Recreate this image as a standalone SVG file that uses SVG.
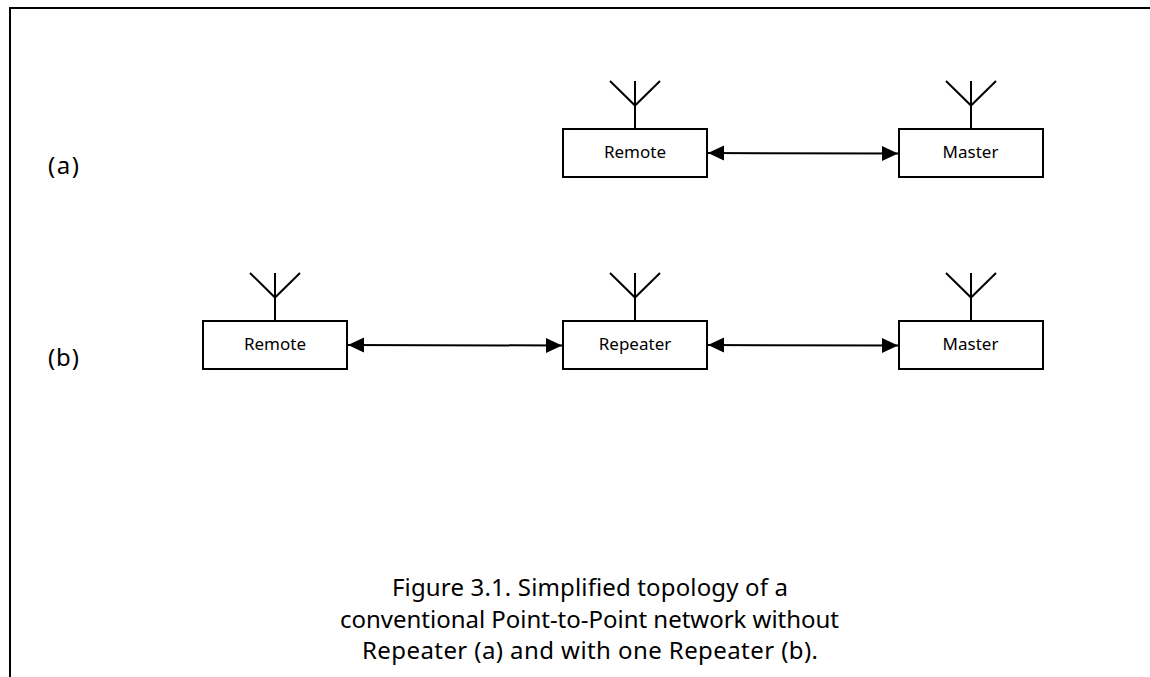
<svg xmlns="http://www.w3.org/2000/svg" width="1150" height="677" viewBox="0 0 1150 677">
<style>
.b{fill:#fff;stroke:#000;stroke-width:2}
.a{fill:none;stroke:#000;stroke-width:2}
.c{fill:none;stroke:#000;stroke-width:2;marker-start:url(#m);marker-end:url(#m)}
text{font-family:"Noto Sans","Open Sans","Liberation Sans",sans-serif;fill:#000;text-anchor:middle}
.n{font-size:17px}
.l{font-size:24px}
</style>
<defs>
<marker id="m" markerUnits="userSpaceOnUse" markerWidth="16" markerHeight="16" refX="16" refY="8" orient="auto-start-reverse"><path d="M0 0.500L16 8L0 15.500Z" fill="#000"/></marker>
<g id="ant"><path class="a" d="M25 0V48M0 0L25 24.500L50 0"/></g>
</defs>
<rect width="1150" height="677" fill="#fff"/>
<path id="frame" d="M1150 8H10V677" fill="none" stroke="#000" stroke-width="2"/>
<g id="connectors">
<path class="c" d="M708 153L898 153.500"/>
<path class="c" d="M348 345L562 345.500"/>
<path class="c" d="M708 345L898 345.500"/>
</g>
<g id="remote-a"><use href="#ant" x="610" y="81"/><rect class="b" x="563" y="129" width="144" height="48"/><text class="n" x="635" y="158">Remote</text></g>
<g id="master-a"><use href="#ant" x="946" y="81"/><rect class="b" x="899" y="129" width="144" height="48"/><text class="n" x="970.500" y="158">Master</text></g>
<g id="remote-b"><use href="#ant" x="250" y="273"/><rect class="b" x="203" y="321" width="144" height="48"/><text class="n" x="275" y="350">Remote</text></g>
<g id="repeater-b"><use href="#ant" x="610" y="273"/><rect class="b" x="563" y="321" width="144" height="48"/><text class="n" x="635" y="350">Repeater</text></g>
<g id="master-b"><use href="#ant" x="946" y="273"/><rect class="b" x="899" y="321" width="144" height="48"/><text class="n" x="970.500" y="350">Master</text></g>
<text class="l" x="63.500" y="174" textLength="31">(a)</text>
<text class="l" x="63.500" y="366" textLength="31">(b)</text>
<text class="l" x="590" y="596" textLength="396">Figure 3.1. Simplified topology of a</text>
<text class="l" x="589.500" y="628" textLength="499">conventional Point-to-Point network without</text>
<text class="l" x="590" y="659" textLength="456">Repeater (a) and with one Repeater (b).</text>
</svg>
